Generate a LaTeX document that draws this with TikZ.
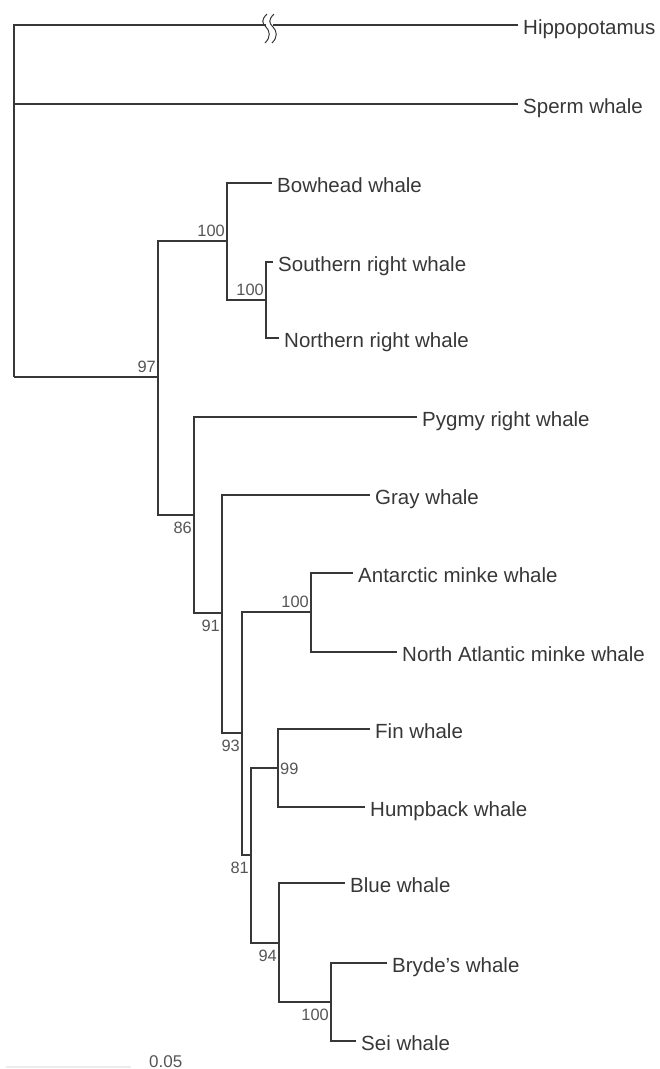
\documentclass[tikz,border=0pt]{standalone}
\usepackage{fontspec}
\setmainfont{Liberation Sans}
\definecolor{ink}{RGB}{55,55,55}
\definecolor{faint}{RGB}{236,236,236}
\begin{document}
\begin{tikzpicture}[x=1pt,y=-1pt,
  branch/.style={draw=ink, line width=1.2pt},
  leaf/.style={anchor=west, inner xsep=5pt, inner ysep=0pt, text height=18pt, text depth=0pt,
    font=\fontsize{20.5}{24}\selectfont, text=ink},
  boot/.style={inner xsep=2pt, inner ysep=4.5pt, text height=12pt, text depth=0pt,
    font=\fontsize{16.4}{19}\selectfont, text=ink!85},
  bootlow/.style={boot, inner ysep=6pt}]
\useasboundingbox (0,0) rectangle (660,1069);

% internal nodes
\coordinate (root)  at (14,377);
\coordinate (n97)   at (158,377);
\coordinate (n100a) at (227,241);
\coordinate (n100b) at (266,300);
\coordinate (n86)   at (194,515);
\coordinate (n91)   at (222,613);
\coordinate (n93)   at (242,733);
\coordinate (n100c) at (311,612);
\coordinate (n81)   at (251,855);
\coordinate (n99)   at (278,768);
\coordinate (n94)   at (279,943);
\coordinate (n100d) at (331,1002);
\coordinate (brkL)  at (266,25);
\coordinate (brkR)  at (273,25);

% leaves
\node[leaf] (hippo)     at (518,25)   {Hippopotamus};
\node[leaf] (sperm)     at (518,104)  {Sperm whale};
\node[leaf] (bowhead)   at (272,183)  {Bowhead whale};
\node[leaf] (southern)  at (273,262)  {Southern right whale};
\node[leaf] (northern)  at (279,338)  {Northern right whale};
\node[leaf] (pygmy)     at (417,417)  {Pygmy right whale};
\node[leaf] (gray)      at (370,495)  {Gray whale};
\node[leaf] (antarctic) at (353,573)  {Antarctic minke whale};
\node[leaf] (natl)      at (397,652)  {North Atlantic minke whale};
\node[leaf] (fin)       at (370,729)  {Fin whale};
\node[leaf] (humpback)  at (365,807)  {Humpback whale};
\node[leaf] (blue)      at (345,883)  {Blue whale};
\node[leaf] (bryde)     at (387,963)  {Bryde’s whale};
\node[leaf] (sei)       at (356,1041) {Sei whale};

% branches
\draw[branch] (root) |- (brkL);
\draw[branch] (brkR) -- (hippo.west);
\draw[branch] (root) |- (sperm.west);
\draw[branch] (root) -- (n97);
\draw[branch] (n97) |- (n100a);
\draw[branch] (n97) |- (n86);
\draw[branch] (n100a) |- (bowhead.west);
\draw[branch] (n100a) |- (n100b);
\draw[branch] (n100b) |- (southern.west);
\draw[branch] (n100b) |- (northern.west);
\draw[branch] (n86) |- (pygmy.west);
\draw[branch] (n86) |- (n91);
\draw[branch] (n91) |- (gray.west);
\draw[branch] (n91) |- (n93);
\draw[branch] (n93) |- (n100c);
\draw[branch] (n93) |- (n81);
\draw[branch] (n100c) |- (antarctic.west);
\draw[branch] (n100c) |- (natl.west);
\draw[branch] (n81) |- (n99);
\draw[branch] (n81) |- (n94);
\draw[branch] (n99) |- (fin.west);
\draw[branch] (n99) |- (humpback.west);
\draw[branch] (n94) |- (blue.west);
\draw[branch] (n94) |- (n100d);
\draw[branch] (n100d) |- (bryde.west);
\draw[branch] (n100d) |- (sei.west);

% break mark on the hippopotamus branch
\draw[branch, line width=1pt] (267,14) .. controls (261,20) and (262,23) .. (266,27)
  .. controls (270,31) and (271,37) .. (265,43);
\draw[branch, line width=1pt] (274,14) .. controls (268,20) and (269,23) .. (273,27)
  .. controls (277,31) and (278,37) .. (272,43);

% bootstrap values
\node[boot, anchor=south east]    (b97)   at (n97)   {97};
\node[boot, anchor=south east]    (b100a) at (n100a) {100};
\node[boot, anchor=south east]    (b100b) at (n100b) {100};
\node[bootlow, anchor=north east] (b86)   at (n86)   {86};
\node[bootlow, anchor=north east] (b91)   at (n91)   {91};
\node[bootlow, anchor=north east] (b93)   at (n93)   {93};
\node[boot, anchor=south east]    (b100c) at (n100c) {100};
\node[bootlow, anchor=north east] (b81)   at (n81)   {81};
\node[boot, anchor=west]          (b99)   at (n99)   {99};
\node[bootlow, anchor=north east] (b94)   at (n94)   {94};
\node[bootlow, anchor=north east] (b100d) at (n100d) {100};

% scale bar
\coordinate (sbL) at (6,1067);
\coordinate (sbR) at (131,1067);
\draw[draw=faint, line width=2pt] (sbL) -- (sbR);
\node[anchor=base west, inner sep=0pt, font=\fontsize{17}{20}\selectfont, text=ink!85] (scale) at (149,1067) {0.05};
\end{tikzpicture}
\end{document}
